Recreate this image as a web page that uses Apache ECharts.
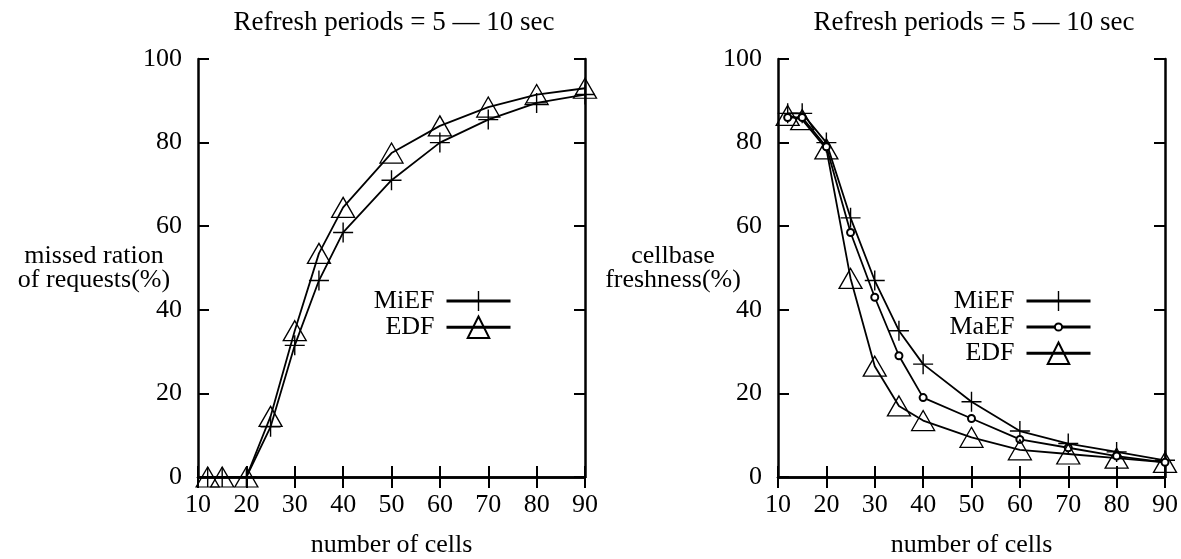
<!DOCTYPE html>
<html lang="en">
<head>
    <meta charset="UTF-8">
    <title>Refresh periods = 5 — 10 sec</title>
    <script src="https://cdn.jsdelivr.net/npm/echarts@6.0.0/dist/echarts.min.js"></script>
    <style>
        body {
            margin: 0;
            padding: 0;
            background-color: #ffffff;
        }
        #chart {
            width: 1181px;
            height: 559px;
        }
    </style>
</head>
<body>
    <div id="chart"></div>

    <script>
        // 数据：横轴为小区数量
        const cells = [12, 15, 20, 25, 30, 35, 40, 50, 60, 70, 80, 90];
        const xTicks = [10, 20, 30, 40, 50, 60, 70, 80, 90];
        const yTicks = [0, 20, 40, 60, 80, 100];

        // 左图：missed ratio
        const missedMiEF = [0, 0, 0, 12, 31.5, 47, 58.5, 71, 80, 85.5, 89.5, 91.5];
        const missedEDF = [0, 0, 0, 14.5, 35, 53.5, 64.5, 77.5, 84, 88.5, 91.5, 93];

        // 右图：cellbase freshness
        const freshMiEF = [87, 87, 80, 62, 47, 35, 27, 18, 11, 8, 6, 4];
        const freshMaEF = [86, 86, 79, 58.5, 43, 29, 19, 14, 9, 7, 5, 3.5];
        const freshEDF = [86.5, 85.5, 78.5, 47.5, 26.5, 17, 13.5, 9.5, 6.5, 5.5, 4.5, 3.5];

        const FONT = 'Liberation Serif';
        const PLUS = 'path://M-0.07,-1L0.07,-1L0.07,-0.07L1,-0.07L1,0.07L0.07,0.07L0.07,1L-0.07,1L-0.07,0.07L-1,0.07L-1,-0.07L-0.07,-0.07Z';
        const TRI = 'path://M0,0L1,1.73L-1,1.73Z';

        const pairs = (ys) => cells.map((x, i) => [x, ys[i]]);

        const chart = echarts.init(document.getElementById('chart'), null, { renderer: 'canvas' });

        function xAxes(grid) {
            const base = {
                gridIndex: grid,
                type: 'value',
                min: xTicks[0],
                max: xTicks[xTicks.length - 1],
                interval: 10,
                splitLine: { show: false },
                axisLine: { lineStyle: { color: '#000', width: 2.5 } },
                axisTick: { inside: true, length: 11, lineStyle: { color: '#000', width: 2 } }
            };
            return [
                Object.assign({}, base, {
                    position: 'bottom',
                    name: 'number of cells',
                    nameLocation: 'middle',
                    nameGap: 68,
                    nameMoveOverlap: false,
                    nameTextStyle: { fontFamily: FONT, fontSize: 26, color: '#000', verticalAlign: 'middle' },
                    axisLabel: { fontFamily: FONT, fontSize: 26, color: '#000', margin: 15 }
                }),
                Object.assign({}, base, { position: 'top', axisLabel: { show: false } })
            ];
        }

        function yAxes(grid, name, gap) {
            const base = {
                gridIndex: grid,
                type: 'value',
                min: yTicks[0],
                max: yTicks[yTicks.length - 1],
                interval: 20,
                splitLine: { show: false },
                axisLine: { lineStyle: { color: '#000', width: 2.5 } },
                axisTick: { inside: true, length: 11, lineStyle: { color: '#000', width: 2 } }
            };
            return [
                Object.assign({}, base, {
                    position: 'left',
                    name: name,
                    nameLocation: 'middle',
                    nameRotate: 0,
                    nameGap: gap,
                    nameMoveOverlap: false,
                    nameTextStyle: {
                        fontFamily: FONT, fontSize: 26, color: '#000',
                        align: 'center', verticalAlign: 'middle', lineHeight: 24
                    },
                    axisLabel: { fontFamily: FONT, fontSize: 26, color: '#000', margin: 16 }
                }),
                Object.assign({}, base, { position: 'right', axisLabel: { show: false } })
            ];
        }

        function lineSeries(name, xi, yi, ys, kind) {
            const s = {
                name: name,
                type: 'line',
                xAxisIndex: xi,
                yAxisIndex: yi,
                data: pairs(ys),
                lineStyle: { color: '#000', width: 1.8 },
                emphasis: { disabled: true },
                silent: true
            };
            if (kind === 'plus') {
                s.symbol = PLUS;
                s.symbolSize = 20;
                s.itemStyle = { color: '#000' };
            } else if (kind === 'tri') {
                s.symbol = TRI;
                s.symbolSize = [23, 20];
                s.itemStyle = { color: 'none', borderColor: '#000', borderWidth: 1.3 };
            } else {
                s.symbol = 'emptyCircle';
                s.symbolSize = 7;
                s.itemStyle = { color: '#000', borderWidth: 1 };
            }
            return s;
        }

        function legendItem(name, right, top, h) {
            return {
                data: [name],
                orient: 'vertical',
                align: 'right',
                right: right,
                top: top,
                padding: 0,
                itemWidth: 64,
                itemHeight: h,
                selectedMode: false,
                lineStyle: { width: 3, color: '#000' },
                textStyle: { fontFamily: FONT, fontSize: 26, color: '#000', padding: [0, 7, 0, 0] }
            };
        }

        const titleStyle = { fontFamily: FONT, fontSize: 27, fontWeight: 'normal', color: '#000' };

        const option = {
            animation: false,
            backgroundColor: '#ffffff',
            title: [
                { text: 'Refresh periods = 5 — 10 sec', left: 389, top: 4, textAlign: 'center', textStyle: titleStyle },
                { text: 'Refresh periods = 5 — 10 sec', left: 969, top: 4, textAlign: 'center', textStyle: titleStyle }
            ],
            grid: [
                { left: 198, top: 59, width: 387, height: 418, outerBoundsMode: 'none', containLabel: false },
                { left: 778, top: 59, width: 387, height: 418, outerBoundsMode: 'none', containLabel: false }
            ],
            xAxis: xAxes(0).concat(xAxes(1)),
            yAxis: yAxes(0, 'missed ration\nof requests(%)', 104).concat(yAxes(1, 'cellbase\nfreshness(%)', 105)),
            legend: [
                legendItem('MiEF', 669, 288, 25),
                legendItem('EDF', 669, 314, 27),
                legendItem('MiEF', 89, 288, 25),
                legendItem('MaEF', 89, 314, 9),
                legendItem('EDF', 89, 340, 27)
            ],
            series: [
                lineSeries('MiEF', 0, 0, missedMiEF, 'plus'),
                lineSeries('EDF', 0, 0, missedEDF, 'tri'),
                lineSeries('MiEF', 2, 2, freshMiEF, 'plus'),
                lineSeries('MaEF', 2, 2, freshMaEF, 'circle'),
                lineSeries('EDF', 2, 2, freshEDF, 'tri')
            ]
        };
        chart.setOption(option);

        window.addEventListener('resize', () => {
            chart.resize();
        });
    </script>
</body>
</html>
